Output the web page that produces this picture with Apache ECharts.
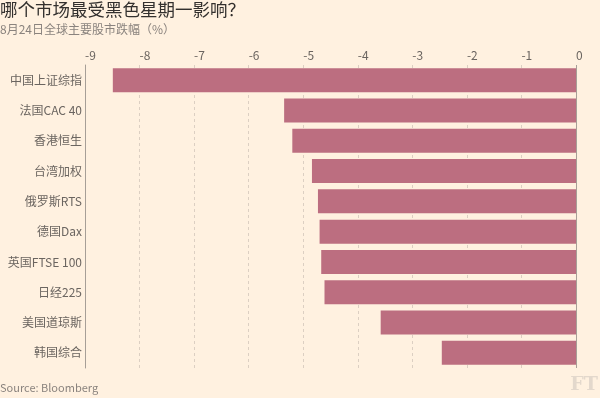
<!DOCTYPE html>
<html>
<head>
<meta charset="utf-8">
<script src="https://cdn.jsdelivr.net/npm/echarts@6/dist/echarts.min.js"></script>
<style>
  html, body { margin: 0; padding: 0; background: #fff1e0; }
  #chart { width: 600px; height: 398px; }
</style>
</head>
<body>
<div id="chart"></div>
<script>
  // 8月24日 跌幅 (%)
  const markets = [
    "中国上证综指",
    "法国CAC 40",
    "香港恒生",
    "台湾加权",
    "俄罗斯RTS",
    "德国Dax",
    "英国FTSE 100",
    "日经225",
    "美国道琼斯",
    "韩国综合",
  ];
  const drops = [-8.49, -5.35, -5.2, -4.84, -4.73, -4.7, -4.67, -4.61, -3.58, -2.46];

  const font = "'Noto Sans CJK SC', 'Noto Sans', sans-serif";
  const chart = echarts.init(document.getElementById("chart"));

  const option = {
    backgroundColor: "#fff1e0",
    animation: false,
    title: [
      {
        text: "哪个市场最受黑色星期一影响？",
        left: 0,
        top: 1,
        padding: 0,
        textStyle: { fontFamily: font, fontSize: 17.5, fontWeight: "normal", color: "#33302e" },
      },
      {
        text: "8月24日全球主要股市跌幅（%）",
        left: 0,
        top: 23,
        padding: 0,
        textStyle: { fontFamily: font, fontSize: 12, fontWeight: "normal", color: "#8a837e" },
      },
      {
        text: "Source: Bloomberg",
        left: 0,
        top: 382,
        padding: 0,
        textStyle: { fontFamily: font, fontSize: 11, fontWeight: "normal", color: "#8a837e" },
      },
      {
        text: "FT",
        right: 2,
        top: 376,
        padding: 0,
        textStyle: { fontFamily: "'DejaVu Serif', serif", fontSize: 19, fontWeight: "bold", color: "#e3d8cc" },
      },
    ],
    grid: { left: 85, right: 24, top: 65, bottom: 30 },
    xAxis: {
      type: "value",
      position: "top",
      min: -9,
      max: 0,
      interval: 1,
      axisLine: { show: false },
      axisTick: { show: false },
      axisLabel: { align: "left", margin: 4, fontFamily: font, fontSize: 12, color: "#6b6560" },
      splitLine: { lineStyle: { type: [3, 3], color: "#dccfc2" } },
    },
    yAxis: {
      type: "category",
      data: markets,
      inverse: true,
      axisLine: { onZero: false, lineStyle: { color: "#a79f97" } },
      axisTick: { show: false },
      axisLabel: { margin: 3, fontFamily: font, fontSize: 12, color: "#6b6560" },
    },
    series: [
      {
        type: "bar",
        data: drops,
        barWidth: 24,
        itemStyle: { color: "#bc6e80" },
        markLine: {
          silent: true,
          symbol: "none",
          label: { show: false },
          lineStyle: { type: "solid", color: "#a79f97", width: 1 },
          data: [{ xAxis: 0 }],
        },
      },
    ],
  };

  chart.setOption(option);
</script>
</body>
</html>
